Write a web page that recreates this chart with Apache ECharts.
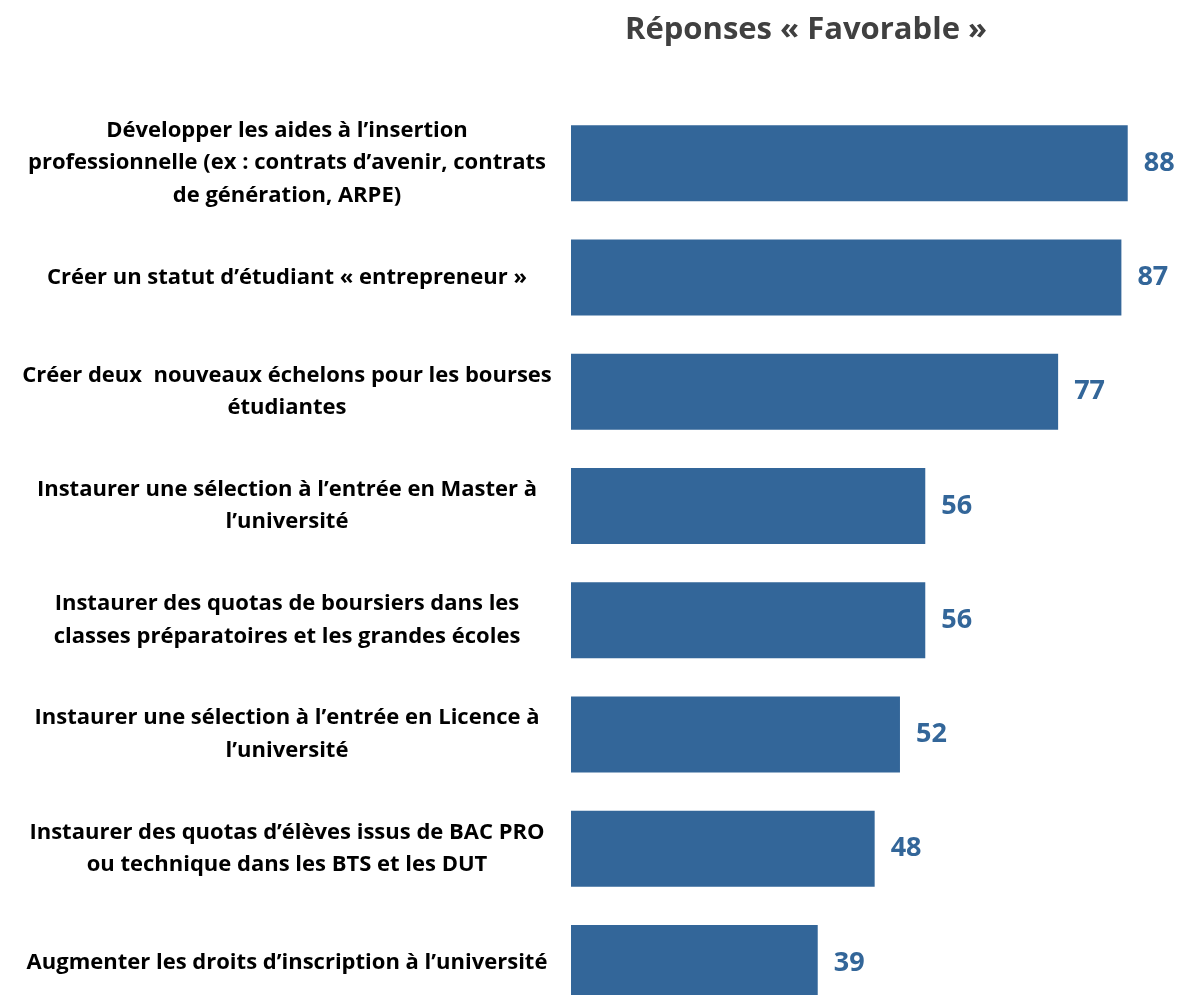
<!DOCTYPE html>
<html>
<head>
<meta charset="utf-8">
<script src="https://cdn.jsdelivr.net/npm/echarts@6/dist/echarts.min.js"></script>
<style>
  html, body { margin: 0; padding: 0; background: #fff; }
  #chart { width: 1179px; height: 995px; }
</style>
</head>
<body>
<div id="chart"></div>
<script>
// categories, top to bottom
var categories = [
  'Développer les aides à l’insertion\nprofessionnelle (ex : contrats d’avenir, contrats\nde génération, ARPE)',
  'Créer un statut d’étudiant « entrepreneur »',
  'Créer deux  nouveaux échelons pour les bourses\nétudiantes',
  'Instaurer une sélection à l’entrée en Master à\nl’université',
  'Instaurer des quotas de boursiers dans les\nclasses préparatoires et les grandes écoles',
  'Instaurer une sélection à l’entrée en Licence à\nl’université',
  'Instaurer des quotas d’élèves issus de BAC PRO\nou technique dans les BTS et les DUT',
  'Augmenter les droits d’inscription à l’université'
];
var favorable = [88, 87, 77, 56, 56, 52, 48, 39];

var chart = echarts.init(document.getElementById('chart'));
var BLUE = '#336699';
var FONT = 'Open Sans';

chart.setOption({
  animation: false,
  title: {
    text: 'Réponses « Favorable »',
    left: 801,
    top: 10,
    textAlign: 'center',
    textStyle: { fontFamily: FONT, fontSize: 31, fontWeight: 'bold', color: '#404040' }
  },
  grid: {
    left: 571,
    top: 106,
    width: 601,
    height: 914,
    outerBoundsMode: 'none'
  },
  xAxis: {
    type: 'value',
    min: 0,
    max: 95,
    show: false
  },
  yAxis: {
    type: 'category',
    data: categories,
    inverse: true,
    axisLine: { show: false },
    axisTick: { show: false },
    splitLine: { show: false },
    axisLabel: {
      margin: 284,
      align: 'center',
      fontFamily: FONT,
      fontSize: 22,
      fontWeight: 'bold',
      color: '#000',
      lineHeight: 32.5,
      padding: [6, 0, 0, 0]
    }
  },
  series: [{
    type: 'bar',
    data: favorable,
    barWidth: 76,
    itemStyle: { color: BLUE },
    label: {
      show: true,
      position: 'right',
      distance: 16,
      fontFamily: FONT,
      fontSize: 27,
      fontWeight: 'bold',
      color: BLUE
    }
  }]
});
</script>
</body>
</html>
